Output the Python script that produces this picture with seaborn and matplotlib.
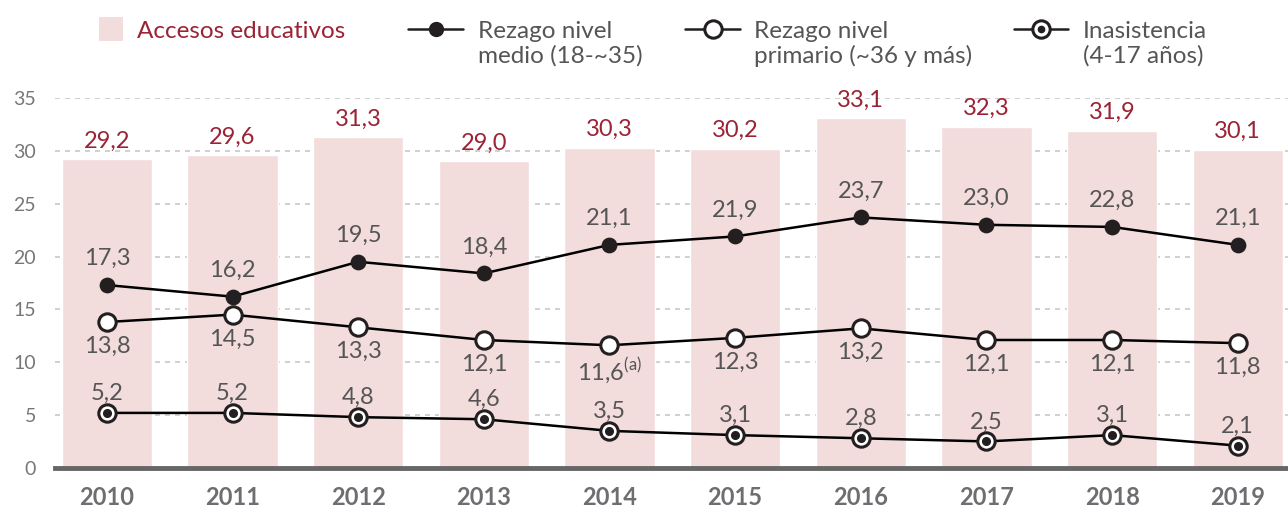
import pandas as pd
import matplotlib.pyplot as plt
import seaborn as sns
from matplotlib.lines import Line2D
from matplotlib.patches import Patch, Rectangle
from matplotlib.legend_handler import HandlerLine2D, HandlerPatch

years = ["2010", "2011", "2012", "2013", "2014", "2015", "2016", "2017", "2018", "2019"]
accesos = [29.2, 29.6, 31.3, 29.0, 30.3, 30.2, 33.1, 32.3, 31.9, 30.1]
rezago_medio = [17.3, 16.2, 19.5, 18.4, 21.1, 21.9, 23.7, 23.0, 22.8, 21.1]
rezago_primario = [13.8, 14.5, 13.3, 12.1, 11.6, 12.3, 13.2, 12.1, 12.1, 11.8]
inasistencia = [5.2, 5.2, 4.8, 4.6, 3.5, 3.1, 2.8, 2.5, 3.1, 2.1]

df = pd.DataFrame({"year": years, "accesos": accesos, "medio": rezago_medio,
                   "primario": rezago_primario, "inas": inasistencia})

sns.set_style("white")
plt.rcParams["font.family"] = ["Lato", "DejaVu Sans"]

pink = "#f3dcdc"
red = "#9b2335"
gray = "#555555"
ink = "#231f20"

fig = plt.figure(figsize=(12.88, 5.13), dpi=100)
ax = fig.add_axes([0.043, 0.088, 0.957, 0.721])

sns.barplot(data=df, x="year", y="accesos", color=pink, width=0.72,
            saturation=1, ax=ax, zorder=2)

line_kw = dict(color="black", linewidth=1.8, errorbar=None, ax=ax)
sns.pointplot(data=df, x="year", y="medio", markers="o", markersize=10,
              markerfacecolor=ink, markeredgecolor=ink, **line_kw)
sns.pointplot(data=df, x="year", y="primario", markers="o", markersize=12.5,
              markerfacecolor="white", markeredgecolor=ink,
              markeredgewidth=2.2, **line_kw)
sns.pointplot(data=df, x="year", y="inas", markers="o", markersize=12.5,
              markerfacecolor="white", markeredgecolor=ink,
              markeredgewidth=2.2, **line_kw)
sns.pointplot(data=df, x="year", y="inas", markers="o", markersize=4.5,
              markerfacecolor=ink, markeredgecolor=ink,
              linestyles="none", color="black", errorbar=None, ax=ax)

def fmt(v):
    return f"{v:.1f}".replace(".", ",")

for i in range(len(years)):
    ax.annotate(fmt(accesos[i]), (i, accesos[i]), xytext=(0, 13),
                textcoords="offset points", ha="center", va="center",
                color=red, fontsize=17, clip_on=False)
    ax.annotate(fmt(rezago_medio[i]), (i, rezago_medio[i]), xytext=(0, 19),
                textcoords="offset points", ha="center", va="center",
                color=gray, fontsize=17)
    lab = fmt(rezago_primario[i])
    if years[i] == "2014":
        lab = lab + r"$^{\mathregular{(a)}}$"
    ax.annotate(lab, (i, rezago_primario[i]), xytext=(0, -17.5),
                textcoords="offset points", ha="center", va="center",
                color=gray, fontsize=17)
    ax.annotate(fmt(inasistencia[i]), (i, inasistencia[i]), xytext=(0, 14),
                textcoords="offset points", ha="center", va="center",
                color=gray, fontsize=17)

ax.set_xlim(-0.41, 9.4)
ax.set_ylim(0, 35)
ax.set_yticks(range(0, 36, 5))
ax.yaxis.grid(True, linestyle=(0, (3, 3)), color="#c8c8c8", linewidth=1.2, zorder=0)
ax.set_axisbelow(True)
ax.set_xlabel("")
ax.set_ylabel("")
ax.tick_params(axis="y", length=0, labelsize=14, labelcolor="#777777", pad=14)
ax.tick_params(axis="x", length=0, labelsize=17, labelcolor="#6d6e71", pad=13)
for t in ax.get_xticklabels():
    t.set_fontweight("bold")
for s in ["top", "right", "left"]:
    ax.spines[s].set_visible(False)
ax.spines["bottom"].set_color("#666666")
ax.spines["bottom"].set_linewidth(3.5)
ax.spines["bottom"].set_zorder(5)


# legend handles sit on the first line of two-line labels
class TopLine(HandlerLine2D):
    def __init__(self, shift=0, **kw):
        super().__init__(**kw)
        self.shift = shift

    def create_artists(self, legend, orig_handle, xdescent, ydescent,
                       width, height, fontsize, trans):
        arts = super().create_artists(legend, orig_handle, xdescent, ydescent,
                                      width, height, fontsize, trans)
        for a in arts:
            a.set_ydata([y + self.shift for y in a.get_ydata()])
        return arts


def square(legend, orig_handle, xdescent, ydescent, width, height, fontsize):
    s = 17
    yc = (height - ydescent) / 2
    return Rectangle((-xdescent + width - s, yc - s / 2), s, s)


entries = [
    (0.0528, Patch(facecolor=pink, edgecolor="none"), "Accesos educativos", red,
     {Patch: HandlerPatch(patch_func=square)}),
    (0.317, Line2D([], [], color=ink, lw=1.8, marker="o", markersize=10,
                   markerfacecolor=ink),
     "Rezago nivel\nmedio (18-~35)", gray, {Line2D: TopLine(shift=10.5)}),
    (0.532, Line2D([], [], color=ink, lw=1.8, marker="o", markersize=12.5,
                   markerfacecolor="white", markeredgewidth=2.2),
     "Rezago nivel\nprimario (~36 y más)", gray, {Line2D: TopLine(shift=10.5)}),
    (0.787, (Line2D([], [], color=ink, lw=1.8, marker="o", markersize=12.5,
                    markerfacecolor="white", markeredgewidth=2.2),
             Line2D([], [], color=ink, lw=0, marker="o", markersize=4.5)),
     "Inasistencia\n(4-17 años)", gray, {Line2D: TopLine(shift=10.5)}),
]
for x0, h, lab, col, hmap in entries:
    leg = fig.legend([h], [lab], loc="upper left", bbox_to_anchor=(x0, 0.96),
                     frameon=False, fontsize=17.5, handlelength=2.25,
                     handletextpad=0.6, borderpad=0, borderaxespad=0,
                     labelcolor=col, handler_map=hmap)

fig.savefig("out.png", dpi=100)
